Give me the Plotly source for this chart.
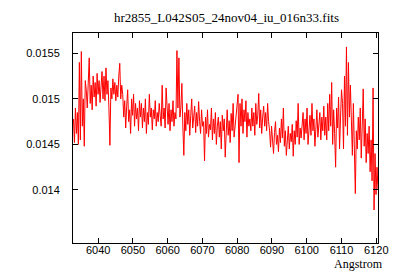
import numpy as np
import plotly.graph_objects as go

title_text = "hr2855_L042S05_24nov04_iu_016n33.fits"
x_label = "Angstrom"

wave_start = 6032.9
wave_end = 6120.5

flux = [
    0.01478, 0.01452, 0.01490, 0.01462, 0.01485, 0.01450,
    0.01540, 0.01455, 0.01552, 0.01470, 0.01500, 0.01448, 0.01520,
    0.01510, 0.01490, 0.01530, 0.01545, 0.01495, 0.01515, 0.01488, 0.01525, 0.01502,
    0.01518, 0.01492, 0.01528, 0.01505, 0.01520, 0.01496, 0.01512, 0.01530, 0.01500,
    0.01525, 0.01498, 0.01534, 0.01505, 0.01520, 0.01490, 0.01449,
    0.01512, 0.01500, 0.01522, 0.01505, 0.01518, 0.01498, 0.01515, 0.01502, 0.01525,
    0.01539, 0.01500, 0.01515,
    0.01505, 0.01480, 0.01498, 0.01468, 0.01492, 0.01510, 0.01475, 0.01488, 0.01462,
    0.01500, 0.01482, 0.01505, 0.01470, 0.01495, 0.01478, 0.01490, 0.01465, 0.01498,
    0.01480, 0.01495, 0.01468, 0.01490, 0.01475, 0.01500, 0.01462, 0.01485, 0.01472,
    0.01505, 0.01480, 0.01490, 0.01466, 0.01488, 0.01478, 0.01498, 0.01470, 0.01485,
    0.01475, 0.01495,
    0.01482, 0.01470, 0.01515, 0.01478, 0.01490, 0.01468, 0.01512, 0.01485, 0.01472,
    0.01495, 0.01465, 0.01488, 0.01475, 0.01498, 0.01470, 0.01485, 0.01478,
    0.01553, 0.01490, 0.01545, 0.01480,
    0.01490, 0.01517, 0.01470, 0.01438, 0.01485, 0.01465, 0.01495, 0.01472, 0.01488,
    0.01460, 0.01482, 0.01500, 0.01468, 0.01478, 0.01492, 0.01463, 0.01485, 0.01470,
    0.01497, 0.01475, 0.01462, 0.01488, 0.01470,
    0.01475, 0.01432, 0.01480, 0.01462, 0.01488, 0.01458, 0.01472, 0.01466, 0.01490,
    0.01455, 0.01478, 0.01462, 0.01485, 0.01450, 0.01470, 0.01480, 0.01458, 0.01475,
    0.01445, 0.01482, 0.01465, 0.01478, 0.01436, 0.01470, 0.01488, 0.01460, 0.01476,
    0.01452, 0.01484, 0.01465, 0.01495, 0.01458, 0.01472, 0.01480,
    0.01490, 0.01505, 0.01430, 0.01495, 0.01470, 0.01500, 0.01462, 0.01488, 0.01475,
    0.01498, 0.01458, 0.01485, 0.01470,
    0.01478, 0.01465, 0.01490, 0.01470, 0.01485, 0.01460, 0.01495, 0.01472, 0.01482,
    0.01506, 0.01468, 0.01488, 0.01462, 0.01480, 0.01492, 0.01470, 0.01485, 0.01465,
    0.01495, 0.01475,
    0.01465, 0.01447, 0.01470, 0.01455, 0.01440, 0.01463, 0.01475, 0.01450, 0.01460,
    0.01442, 0.01468, 0.01452, 0.01478, 0.01457, 0.01490, 0.01448, 0.01465, 0.01438,
    0.01460, 0.01470, 0.01445, 0.01462, 0.01453, 0.01472, 0.01437, 0.01465, 0.01450,
    0.01476, 0.01458, 0.01495, 0.01450, 0.01468, 0.01457,
    0.01470, 0.01485, 0.01455, 0.01478, 0.01462, 0.01490, 0.01450, 0.01472, 0.01482,
    0.01460, 0.01495, 0.01465, 0.01478, 0.01448, 0.01475, 0.01488, 0.01458, 0.01470,
    0.01485, 0.01455, 0.01480, 0.01465, 0.01492, 0.01460,
    0.01480, 0.01455, 0.01495, 0.01465, 0.01505, 0.01470, 0.01518, 0.01450, 0.01488,
    0.01462, 0.01425, 0.01490, 0.01468, 0.01502, 0.01445, 0.01480, 0.01510,
    0.01495, 0.01445, 0.01525, 0.01470, 0.01557, 0.01460, 0.01540, 0.01480, 0.01515,
    0.01470, 0.01438, 0.01495, 0.01420, 0.01396, 0.01465, 0.01445, 0.01480,
    0.01455, 0.01490, 0.01435, 0.01470, 0.01511, 0.01448, 0.01478, 0.01430, 0.01462,
    0.01440,
    0.01470, 0.01420, 0.01455, 0.01410, 0.01512, 0.01378, 0.01440, 0.01395, 0.01425,
    0.01400,
]

wavelength = np.linspace(wave_start, wave_end, len(flux))

x_ticks = [6040, 6050, 6060, 6070, 6080, 6090, 6100, 6110, 6120]
y_ticks = [0.014, 0.0145, 0.015, 0.0155]
y_tick_labels = ["0.014", "0.0145", "0.015", "0.0155"]

fig = go.Figure()
fig.add_trace(go.Scatter(
    x=wavelength, y=flux, mode="lines",
    line=dict(color="#ff0000", width=1),
    showlegend=False, hoverinfo="skip",
))

axis_common = dict(
    showline=True, linecolor="black", linewidth=1, mirror="allticks",
    ticks="inside", ticklen=5, tickcolor="black", showgrid=False,
    zeroline=False, tickfont=dict(family="Liberation Sans, Arial", size=11, color="black"),
)

fig.update_xaxes(range=[6032.77, 6120.5], tickvals=x_ticks, ticklabelstandoff=-3,
                 **axis_common)
fig.update_yaxes(range=[0.013418, 0.015723], tickvals=y_ticks, ticktext=y_tick_labels,
                 ticklabelstandoff=10, **axis_common)

W, H = 392, 272
L, T, R, B = 65, 25, 372, 235

fig.update_layout(
    width=W, height=H,
    margin=dict(l=L, r=W - R, t=T, b=H - B),
    paper_bgcolor="white", plot_bgcolor="white",
    title=dict(text=title_text, x=(L + R) / 2 / W, xanchor="center",
               y=1 - 9 / H, yanchor="middle",
               font=dict(family="Liberation Serif, Times New Roman", size=13, color="black")),
    annotations=[dict(
        text=x_label, xref="paper", yref="paper",
        x=(379 - L) / (R - L), y=(B - 256) / (B - T), xanchor="right", yanchor="middle",
        showarrow=False,
        font=dict(family="Liberation Serif, Times New Roman", size=12, color="black"),
    )],
)

fig.write_html("out.html")
